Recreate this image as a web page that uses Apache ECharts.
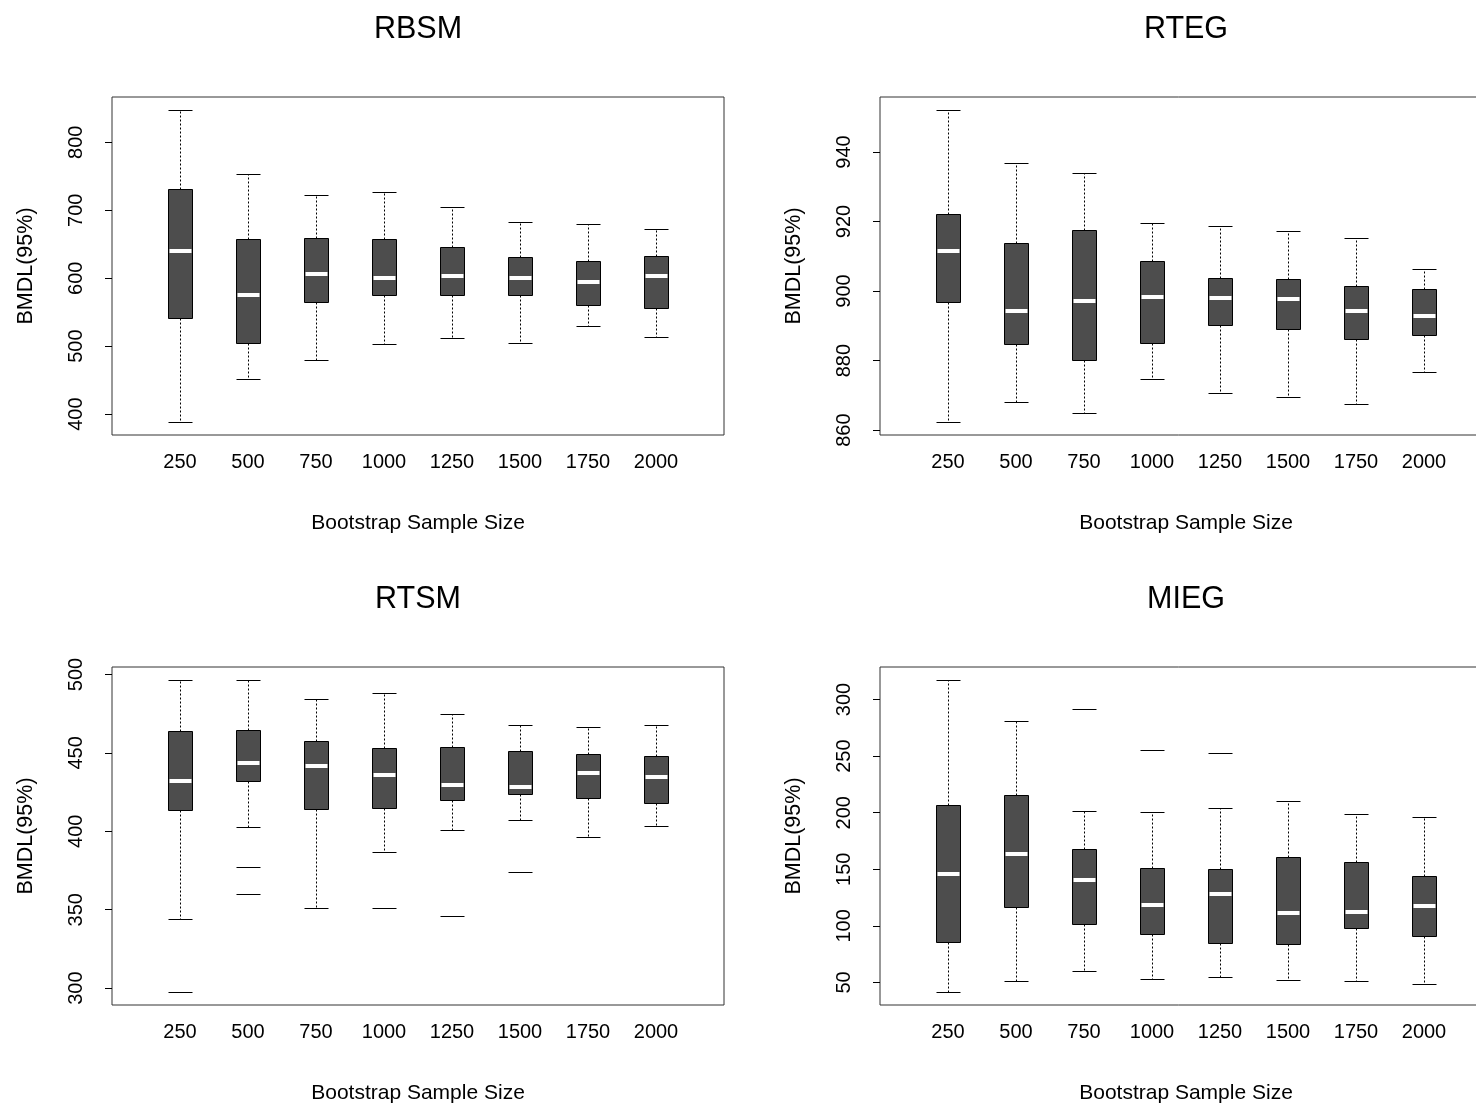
<!DOCTYPE html>
<html>
<head>
<meta charset="utf-8">
<script src="https://cdn.jsdelivr.net/npm/echarts@6/dist/echarts.min.js"></script>
<style>
  html, body { margin: 0; padding: 0; background: #ffffff; }
  #chart { width: 1476px; height: 1105px; }
</style>
</head>
<body>
<div id="chart"></div>
<script>
// Bootstrap sample sizes along the x axis
const sampleSizes = ['250', '500', '750', '1000', '1250', '1500', '1750', '2000'];

// Five-number summaries per sample size: [lower whisker, Q1, median, Q3, upper whisker]
const rbsmStats = [
  [387.7, 541.0, 639.3, 731.7, 848.2],
  [451.6, 504.2, 575.0, 658.0, 753.8],
  [479.1, 565.6, 606.9, 659.5, 721.9],
  [502.7, 575.0, 601.0, 657.0, 726.3],
  [511.5, 575.4, 603.9, 646.2, 705.2],
  [504.7, 575.9, 600.5, 631.4, 682.1],
  [529.2, 560.2, 594.1, 625.6, 679.6],
  [513.5, 555.8, 603.9, 632.9, 671.7]
];
const rbsmOutliers = [];
const rbsmTicks = [400, 500, 600, 700, 800];

const rtegStats = [
  [862.2, 896.9, 911.5, 922.1, 952.2],
  [868.2, 884.7, 894.3, 913.8, 936.7],
  [864.9, 880.2, 897.1, 917.5, 933.9],
  [874.8, 885.0, 898.3, 908.7, 919.7],
  [870.8, 890.2, 898.1, 903.8, 918.6],
  [869.4, 889.0, 897.8, 903.6, 917.4],
  [867.5, 886.1, 894.2, 901.5, 915.2],
  [876.7, 887.3, 892.9, 900.7, 906.4]
];
const rtegOutliers = [];
const rtegTicks = [860, 880, 900, 920, 940];

const rtsmStats = [
  [344.0, 413.4, 432.1, 463.8, 496.8],
  [403.0, 432.1, 443.6, 464.3, 496.8],
  [350.9, 414.3, 441.9, 457.7, 484.5],
  [386.6, 414.9, 436.2, 453.2, 488.5],
  [400.9, 420.0, 429.6, 453.6, 474.5],
  [407.4, 424.0, 428.3, 451.3, 467.9],
  [396.6, 421.3, 437.0, 449.4, 466.8],
  [403.4, 418.1, 434.7, 447.9, 467.7]
];
// [sample size index (1-based), value]
const rtsmOutliers = [[1, 297.2], [2, 377.2], [2, 359.8], [4, 351.1], [5, 346.2], [6, 374.3]];
const rtsmTicks = [300, 350, 400, 450, 500];

const miegStats = [
  [41.1, 86.0, 145.9, 206.4, 317.7],
  [51.2, 116.4, 163.3, 215.9, 280.8],
  [60.3, 101.4, 140.6, 168.1, 201.7],
  [52.7, 92.8, 118.2, 151.5, 200.8],
  [54.7, 85.1, 128.2, 150.6, 203.8],
  [52.1, 83.6, 111.1, 160.4, 210.0],
  [50.9, 98.1, 112.0, 156.0, 198.5],
  [48.5, 90.7, 117.9, 144.4, 195.8]
];
const miegOutliers = [[3, 291.7], [4, 255.4], [5, 252.5]];
const miegTicks = [50, 100, 150, 200, 250, 300];

const FONT = '"Liberation Sans", Arial, Helvetica, sans-serif';

const panels = [
  { title: 'RBSM', stats: rbsmStats, outliers: rbsmOutliers, ticks: rbsmTicks, left: 112, top: 97 },
  { title: 'RTEG', stats: rtegStats, outliers: rtegOutliers, ticks: rtegTicks, left: 880, top: 97 },
  { title: 'RTSM', stats: rtsmStats, outliers: rtsmOutliers, ticks: rtsmTicks, left: 112, top: 667 },
  { title: 'MIEG', stats: miegStats, outliers: miegOutliers, ticks: miegTicks, left: 880, top: 667 }
];
const PLOT_W = 612, PLOT_H = 338;

// y range: data extent padded by 4% on each side
function paddedRange(stats, outliers) {
  const vals = [];
  stats.forEach(s => { vals.push(s[0], s[4]); });
  outliers.forEach(o => vals.push(o[1]));
  const lo = Math.min(...vals), hi = Math.max(...vals);
  const pad = (hi - lo) * 0.04;
  return [lo - pad, hi + pad];
}

const crisp = v => Math.round(v) + 0.5;

function renderBox(params, api) {
  const x = api.value(0);
  const pLo = api.coord([x, api.value(1)]);
  const pQ1 = api.coord([x, api.value(2)]);
  const pMd = api.coord([x, api.value(3)]);
  const pQ3 = api.coord([x, api.value(4)]);
  const pHi = api.coord([x, api.value(5)]);
  const half = Math.round(api.size([1, 0])[0] * 0.176);
  const cx = crisp(pMd[0]);
  const dashed = { stroke: '#000', lineWidth: 1, lineDash: [2, 2] };
  const solid = { stroke: '#000', lineWidth: 1 };
  const yHi = crisp(pHi[1]), yLo = crisp(pLo[1]), yQ1 = crisp(pQ1[1]), yQ3 = crisp(pQ3[1]);
  return {
    type: 'group',
    children: [
      { type: 'line', shape: { x1: cx, y1: yQ3, x2: cx, y2: yHi }, style: dashed },
      { type: 'line', shape: { x1: cx, y1: yQ1, x2: cx, y2: yLo }, style: dashed },
      { type: 'line', shape: { x1: cx - half, y1: yHi, x2: cx + half, y2: yHi }, style: solid },
      { type: 'line', shape: { x1: cx - half, y1: yLo, x2: cx + half, y2: yLo }, style: solid },
      { type: 'rect', shape: { x: cx - half, y: yQ3, width: 2 * half, height: yQ1 - yQ3 },
        style: { fill: '#4d4d4d', stroke: '#000', lineWidth: 1 } },
      { type: 'line', shape: { x1: cx - half + 1, y1: Math.round(pMd[1]), x2: cx + half - 1, y2: Math.round(pMd[1]) },
        style: { stroke: '#ffffff', lineWidth: 4 } }
    ]
  };
}

function renderOutlier(params, api) {
  const p = api.coord([api.value(0), api.value(1)]);
  const half = Math.round(api.size([1, 0])[0] * 0.176);
  const cx = crisp(p[0]), y = crisp(p[1]);
  return { type: 'line', shape: { x1: cx - half, y1: y, x2: cx + half, y2: y },
           style: { stroke: '#000', lineWidth: 1 } };
}

const grid = [], xAxis = [], yAxis = [], series = [], graphic = [];
panels.forEach((p, i) => {
  const range = paddedRange(p.stats, p.outliers);
  grid.push({ left: p.left, top: p.top, width: PLOT_W, height: PLOT_H,
              outerBoundsMode: 'none', containLabel: false,
              show: true, borderColor: '#333', borderWidth: 1, backgroundColor: 'transparent' });
  xAxis.push({
    gridIndex: i, type: 'value', min: 0, max: 9, interval: 1,
    axisLine: { show: false }, axisTick: { show: false }, splitLine: { show: false },
    axisLabel: { formatter: v => sampleSizes[v - 1] || '', fontSize: 20, color: '#000',
                 fontFamily: FONT, margin: 17 },
    name: 'Bootstrap Sample Size', nameLocation: 'middle', nameGap: 78,
    nameTextStyle: { fontSize: 21, color: '#000', fontFamily: FONT }
  });
  yAxis.push({
    gridIndex: i, type: 'value', min: range[0], max: range[1],
    axisLine: { show: false }, splitLine: { show: false },
    axisTick: { show: true, length: 7, customValues: p.ticks, lineStyle: { color: '#000', width: 1 } },
    axisLabel: { customValues: p.ticks, rotate: 90, margin: 26, fontSize: 20, color: '#000', fontFamily: FONT },
    name: 'BMDL(95%)', nameLocation: 'middle', nameGap: 75,
    nameTextStyle: { fontSize: 21.5, color: '#000', fontFamily: FONT }
  });
  series.push({
    type: 'custom', xAxisIndex: i, yAxisIndex: i, renderItem: renderBox,
    encode: { x: 0, y: [1, 2, 3, 4, 5] },
    data: p.stats.map((s, k) => [k + 1].concat(s)), silent: true
  });
  if (p.outliers.length) {
    series.push({
      type: 'custom', xAxisIndex: i, yAxisIndex: i, renderItem: renderOutlier,
      encode: { x: 0, y: 1 }, data: p.outliers, silent: true
    });
  }
  graphic.push({
    type: 'text', x: p.left + PLOT_W / 2, y: p.top - 67,
    style: { text: p.title, fill: '#000', font: '30.5px ' + FONT,
             textAlign: 'center', textVerticalAlign: 'middle' }
  });
});

const chart = echarts.init(document.getElementById('chart'), null, { renderer: 'canvas' });
chart.setOption({
  animation: false,
  backgroundColor: '#ffffff',
  grid, xAxis, yAxis, series, graphic
});
</script>
</body>
</html>
